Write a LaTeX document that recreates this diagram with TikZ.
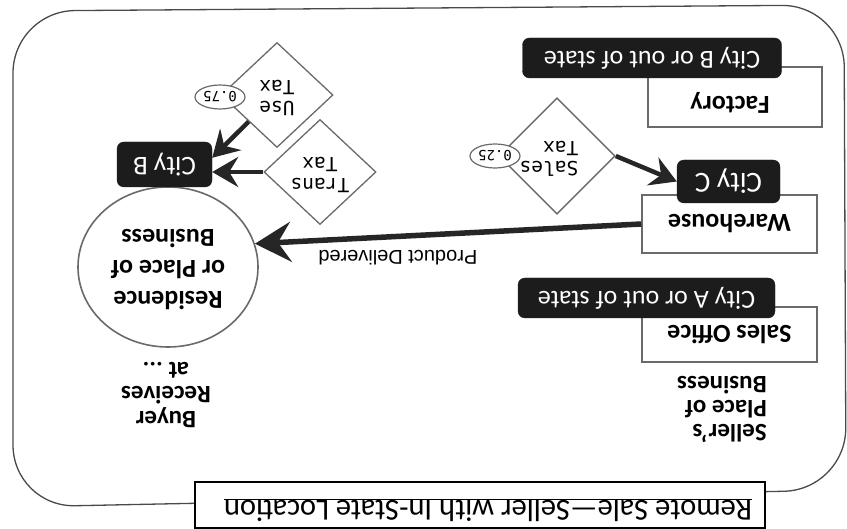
\documentclass[tikz,border=0pt]{standalone}
\usepackage{fontspec}
\setmainfont{Carlito}
\newfontfamily\monof{DejaVu Sans Mono}
\newfontfamily\arialf{Liberation Sans}
\usetikzlibrary{shapes.geometric, arrows.meta}
\newcommand{\rt}[1]{\rotatebox[origin=c]{180}{#1}}
\definecolor{darkfill}{HTML}{1C1C1C}
\definecolor{boxgray}{HTML}{6A6A6A}
\definecolor{linegray}{HTML}{4A4A4A}
\definecolor{arrowc}{HTML}{262626}
\begin{document}
\begin{tikzpicture}[x=1pt, y=-1pt,
  frame/.style={draw=linegray, line width=1.3pt},
  box/.style={draw=boxgray, line width=1.5pt, fill=white, inner sep=0pt, rectangle},
  dark/.style={fill=darkfill, draw=darkfill, rounded corners=7pt, inner sep=0pt, text=white, rectangle},
  dia/.style={diamond, draw=boxgray, line width=1.3pt, fill=white, inner sep=0pt, minimum width=112pt, minimum height=105pt, font=\monof\fontsize{19.5}{20.5}\selectfont},
  oval/.style={ellipse, draw=boxgray, line width=1.2pt, fill=white, inner sep=0pt, minimum width=50pt, minimum height=24pt, font=\monof\fontsize{14}{15}\selectfont},
  bold/.style={font=\bfseries\fontsize{26}{30}\selectfont, inner sep=0pt},
  darktxt/.style={font=\fontsize{26}{30}\selectfont},
  arr/.style={draw=arrowc, line width=4.5pt, -{Stealth[length=26pt, width=30pt, inset=9pt]}},
  bigarr/.style={draw=arrowc, line width=5.5pt, -{Stealth[length=36pt, width=40pt, inset=13pt]}}
]
\useasboundingbox (0,0) rectangle (847,529);
\fill[white] (0,0) rectangle (847,529);

% outer frame
\draw[frame, rounded corners=62pt] (13,11) -- (844,5) -- (846,490) -- (13,507) -- cycle;

% title box
\node[draw=black, line width=2.6pt, fill=white, minimum width=570pt, minimum height=46pt, inner sep=0pt] (tbox) at (480,505) {};
\node[inner sep=0pt] (title) at (488,510) {\rt{\fontsize{30.5}{33}\selectfont\underline{Remote Sale—Seller with In-State Location}}};

% seller side
\node[box, minimum width=174pt, minimum height=60pt] (factory) at (735,97) {};
\node[bold] (factorytxt) at (730,103) {\rt{Factory}};
\node[dark, minimum width=259pt, minimum height=40pt, darktxt] (cityBo) at (652,58) {\rt{City B or out of state}};

\node[box, minimum width=175pt, minimum height=58pt, bold] (wh) at (729.5,224) {\rt{Warehouse}};
\node[dark, minimum width=103pt, minimum height=43pt, font=\fontsize{29}{32}\selectfont] (cityC) at (728.5,181.5) {\rt{City C}};

\node[box, minimum width=175pt, minimum height=55pt, bold] (office) at (729.5,334.5) {\rt{Sales Office}};
\node[dark, minimum width=257pt, minimum height=40pt, darktxt] (cityA) at (646.5,298) {\rt{City A or out of state}};

\node[inner sep=0pt] (seller) at (722,406) {\rt{\bfseries\fontsize{25}{21.5}\selectfont\begin{tabular}{@{}l@{}}Seller’s\\Place of\\Business\end{tabular}}};

% taxes
\node[dia] (sales) at (557,156) {\rt{\hspace{16pt}\begin{tabular}{@{}l@{}}Sales\\Tax\end{tabular}}};
\node[oval] (salesrate) at (495,156) {\rt{0.25}};

\node[dia] (use) at (277,95) {\rt{\begin{tabular}{@{}l@{}}Use\\Tax\end{tabular}}};
\node[oval] (userate) at (220,97) {\rt{0.75}};

\node[dia] (trans) at (320,172) {\rt{\begin{tabular}{@{}c@{}}Trans\\Tax\end{tabular}}};

% buyer side
\node[ellipse, draw=boxgray, line width=1.6pt, fill=white, minimum width=180pt, minimum height=160pt, inner sep=0pt] (buyer) at (168,267) {\rt{\bfseries\fontsize{26}{31}\selectfont\begin{tabular}{@{}c@{}}Residence\\or Place of\\Business\end{tabular}}};
\node[dark, minimum width=95pt, minimum height=45pt, font=\fontsize{27}{30}\selectfont] (cityB) at (164.5,164.5) {\rt{City B}};

\node[inner sep=0pt] (buyertxt) at (166,392) {\rt{\bfseries\fontsize{25}{24}\selectfont\begin{tabular}{@{}c@{}}Buyer\\Receives\\at ...\end{tabular}}};

% connectors
\draw[arr] (sales.east) -- (cityC.west);
\draw[arr] (use.south west) -- (cityB.8);
\draw[arr] (trans.west) -- (trans.west -| cityB.east);
\draw[bigarr] (wh.west) -- (buyer.15)
  node[pos=0.63, yshift=-21pt, font=\arialf\fontsize{20}{22}\selectfont, inner sep=0pt] (pd) {\rt{Product Delivered}};
\end{tikzpicture}
\end{document}
